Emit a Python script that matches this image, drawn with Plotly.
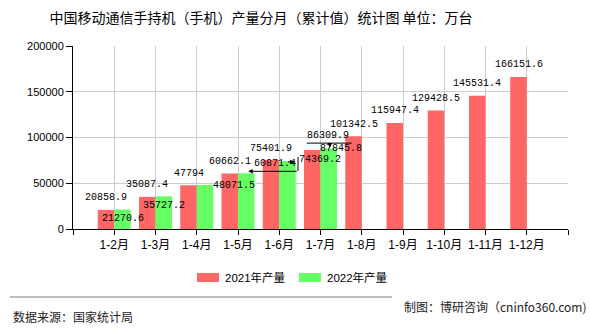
import plotly.graph_objects as go

# ---------------- data ----------------
categories = ['1-2月', '1-3月', '1-4月', '1-5月', '1-6月', '1-7月', '1-8月',
              '1-9月', '1-10月', '1-11月', '1-12月']
values_2021 = [20858.9, 35087.4, 47794, 60662.1, 75401.9, 86309.9, 101342.5,
               115947.4, 129428.5, 145531.4, 166151.6]
values_2022 = [21270.6, 35727.2, 48071.5, 60871.4, 74369.2, 87845.8]
series_names = ['2021年产量', '2022年产量']
y_tickvals = [0, 50000, 100000, 150000, 200000]
y_ticktext = ['0', '50000', '100000', '150000', '200000']
title_text = '中国移动通信手持机（手机）产量分月（累计值）统计图 单位：万台'
source_text = '数据来源：国家统计局'
credit_text = '制图：博研咨询（cninfo360.com)'

# ---------------- style ----------------
RED = '#FF6666'
GREEN = '#66FF66'
W, H = 590, 330
L, R, T, B = 73, 22, 46, 101
PW, PH = W - L - R, H - T - B
LABEL_FONT = dict(family='Liberation Mono, DejaVu Sans Mono', size=10, color='#000')
CJK = 'Liberation Sans, Noto Sans CJK SC'

# label offsets in pixels (xshift, yshift), per series
red_shift = [(0, 12)] * 5 + [(16, 15)] + [(0, 12)] * 5
green_shift = [(0, -8.5), (0, -9), (29, 0), (29, 10), (32.5, 1), (12, 0.5)]


def fmt(v):
    s = '%.1f' % v
    return s[:-2] if s.endswith('.0') else s


def px(xp):
    return (xp - L) / PW


def py(yp):
    return (H - B - yp) / PH


x_idx = list(range(len(categories)))
x_idx22 = x_idx[:len(values_2022)]

fig = go.Figure()
fig.add_trace(go.Bar(x=x_idx, y=values_2021, name=series_names[0],
                     marker=dict(color=RED, line=dict(width=0)), showlegend=False))
fig.add_trace(go.Bar(x=x_idx22, y=values_2022, name=series_names[1],
                     marker=dict(color=GREEN, line=dict(width=0)), showlegend=False))

ann = []
for i, v in enumerate(values_2021):
    ann.append(dict(x=i - 0.2, y=v, text=fmt(v), showarrow=False, xref='x', yref='y',
                    xanchor='center', yanchor='middle', font=LABEL_FONT,
                    xshift=red_shift[i][0], yshift=red_shift[i][1]))
for i, v in enumerate(values_2022):
    ann.append(dict(x=i + 0.2, y=v, text=fmt(v), showarrow=False, xref='x', yref='y',
                    xanchor='center', yanchor='middle', font=LABEL_FONT,
                    xshift=green_shift[i][0], yshift=green_shift[i][1]))

# leader lines for displaced labels (relative to bar tops)
shapes = []
ann.append(dict(x=3.2, y=values_2022[3], xref='x', yref='y', text='', showarrow=True,
                ax=50, ay=0, xshift=2, yshift=2, arrowhead=2, arrowsize=0.9,
                arrowwidth=1, arrowcolor='#000'))
shapes.append(dict(type='line', xref='x', yref='y', xsizemode='pixel', ysizemode='pixel',
                   xanchor=4.2, yanchor=values_2022[4], x0=10.5, x1=10.5, y0=-10, y1=4,
                   line=dict(color='#000', width=1)))
ann.append(dict(x=4.2, y=values_2022[4], xref='x', yref='y', text='', showarrow=True,
                ax=-8, ay=0, xshift=7, yshift=-1, arrowhead=2, arrowsize=0.9,
                arrowwidth=1, arrowcolor='#000'))
shapes.append(dict(type='line', xref='x', yref='y', xsizemode='pixel', ysizemode='pixel',
                   xanchor=5.2, yanchor=values_2022[5], x0=-22, x1=23, y0=5.5, y1=5.5,
                   line=dict(color='#000', width=1)))
ann.append(dict(x=5.2, y=values_2022[5], xref='x', yref='y', text='', showarrow=True,
                ax=0, ay=-4, xshift=1, yshift=1, arrowhead=2, arrowsize=0.9,
                arrowwidth=1, arrowcolor='#000'))

# manual legend
leg = [(197, 219, 223, RED, series_names[0]), (299, 321, 325, GREEN, series_names[1])]
for x0, x1, xt, col, name in leg:
    shapes.append(dict(type='rect', xref='paper', yref='paper', x0=px(x0), x1=px(x1),
                       y0=py(282), y1=py(273), fillcolor=col, line=dict(width=0)))
    ann.append(dict(x=px(xt), y=py(277), xref='paper', yref='paper', text=name,
                    showarrow=False, xanchor='left', yanchor='middle',
                    font=dict(family=CJK, size=11.5, color='#000')))

# footer
shapes.append(dict(type='line', xref='paper', yref='paper', x0=px(10), x1=px(392),
                   y0=py(297), y1=py(297), line=dict(color='#808080', width=1)))
ann.append(dict(x=px(11), y=py(316), xref='paper', yref='paper', text=source_text,
                showarrow=False, xanchor='left', yanchor='middle',
                font=dict(family='Noto Sans CJK SC', size=12, color='#222')))
ann.append(dict(x=px(589), y=py(306), xref='paper', yref='paper', text=credit_text,
                showarrow=False, xanchor='right', yanchor='middle',
                font=dict(family='Noto Sans CJK SC', size=12, color='#222')))

fig.update_layout(
    width=W, height=H,
    margin=dict(l=L, r=R, t=T, b=B, pad=0),
    paper_bgcolor='white', plot_bgcolor='white',
    barmode='group', bargap=0.2, bargroupgap=0,
    showlegend=False,
    title=dict(text=title_text, x=261 / W, xref='container', xanchor='center',
               y=1 - 18 / H, yref='container', yanchor='middle',
               font=dict(family='Noto Sans CJK SC', size=14, color='#000')),
    xaxis=dict(range=[-1, 11], tickmode='array', tickvals=list(range(-1, 12)),
               ticktext=[''] + categories + [''], showgrid=True, gridcolor='#cccccc',
               gridwidth=1, showline=True, linecolor='#000', linewidth=1,
               ticks='outside', ticklen=5, tickcolor='#000', zeroline=False,
               tickfont=dict(family=CJK, size=12, color='#000'), fixedrange=True),
    yaxis=dict(range=[0, 200000], tickmode='array', tickvals=y_tickvals,
               ticktext=y_ticktext, showgrid=True, gridcolor='#cccccc', gridwidth=1,
               showline=True, linecolor='#000', linewidth=1, ticks='outside',
               ticklen=6, tickcolor='#000', zeroline=False,
               tickfont=dict(family='Liberation Sans', size=11, color='#000'),
               fixedrange=True),
    annotations=ann, shapes=shapes,
)

fig.write_html('out.html', config=dict(displayModeBar=False))
